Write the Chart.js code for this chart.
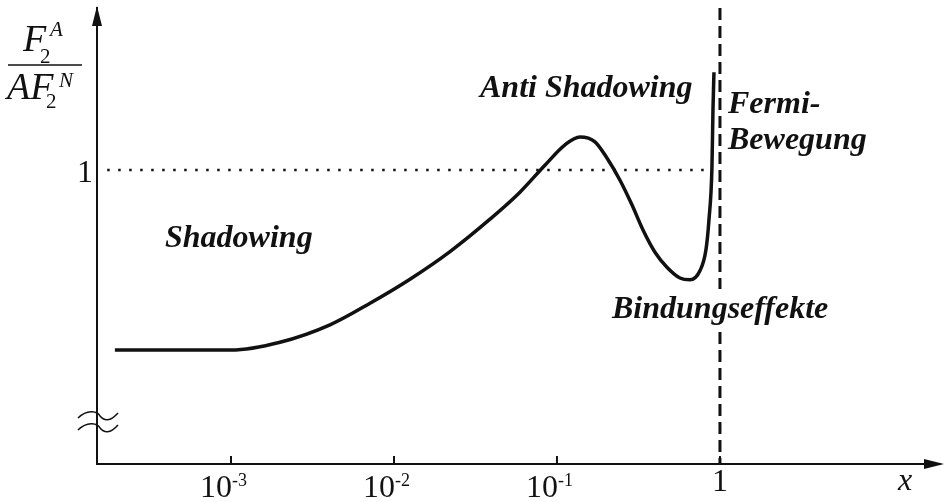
<!DOCTYPE html>
<html>
<head>
<meta charset="utf-8">
<script src="https://cdn.jsdelivr.net/npm/chart.js@4.4.0/dist/chart.umd.min.js"></script>
<style>
  body { margin: 0; background: #fff; }
  #box { width: 946px; height: 502px; }
</style>
</head>
<body>
<div id="box"><canvas id="graficoF2"></canvas></div>
<script>
// curva F2^A / (A F2^N) in funzione di x
var xCurva = [1.94e-4, 4.2e-4, 1e-3, 2.0e-3, 4.05e-3, 7.13e-3, 0.01254, 0.02207, 0.03882, 0.05929,
  0.08435, 0.112, 0.1384, 0.171, 0.2026, 0.2436, 0.2884, 0.3372, 0.3993, 0.4729,
  0.5685, 0.6546, 0.7536, 0.8204, 0.8561, 0.8931, 0.906, 0.9188];
var yCurva = [0.700, 0.700, 0.700, 0.713, 0.742, 0.778, 0.818, 0.864, 0.918, 0.963,
  1.008, 1.042, 1.055, 1.047, 1.020, 0.983, 0.942, 0.900, 0.863, 0.838,
  0.820, 0.817, 0.832, 0.867, 0.917, 1.005, 1.100, 1.163];

// linea punteggiata y = 1 e linea verticale x = 1
var xLineaUno = [1.74e-4, 0.89];
var yLineaVert = [1.27, 0.51];

// tacche dell'asse x (esponenti di 10)
var espTacche = [-3, -2, -1, 0];

var nero = '#111';
var serif = '"Liberation Serif", "Times New Roman", serif';

function punti(xs, ys) {
  var out = [];
  for (var i = 0; i < xs.length; i++) {
    out.push({ x: xs[i], y: ys[i] });
  }
  return out;
}

// assi con frecce, tacche, etichette e testi
var pluginAssi = {
  id: 'assi',
  afterDraw: function(chart) {
    var ctx = chart.ctx;
    var area = chart.chartArea;
    var sx = chart.scales.x;
    var sy = chart.scales.y;
    ctx.save();
    ctx.fillStyle = nero;
    ctx.strokeStyle = nero;

    // frecce
    ctx.beginPath();
    ctx.moveTo(area.left, area.top - 2);
    ctx.lineTo(area.left - 5, area.top + 18);
    ctx.lineTo(area.left + 5, area.top + 18);
    ctx.closePath();
    ctx.fill();
    ctx.beginPath();
    ctx.moveTo(area.right + 4, area.bottom);
    ctx.lineTo(area.right - 16, area.bottom - 5);
    ctx.lineTo(area.right - 16, area.bottom + 5);
    ctx.closePath();
    ctx.fill();

    // tacche e etichette asse x
    ctx.lineWidth = 2;
    ctx.textBaseline = 'alphabetic';
    for (var i = 0; i < espTacche.length; i++) {
      var px = sx.getPixelForValue(Math.pow(10, espTacche[i]));
      ctx.beginPath();
      ctx.moveTo(px, area.bottom);
      ctx.lineTo(px, area.bottom - 8);
      ctx.stroke();
      if (espTacche[i] === 0) {
        ctx.font = '32px ' + serif;
        ctx.textAlign = 'center';
        ctx.fillText('1', px, 491);
      } else {
        ctx.font = '32px ' + serif;
        ctx.textAlign = 'right';
        ctx.fillText('10', px + 1, 497);
        ctx.font = '18px ' + serif;
        ctx.textAlign = 'left';
        ctx.fillText('-' + Math.abs(espTacche[i]), px + 1, 486);
      }
    }

    // etichetta "1" asse y
    ctx.font = '32px ' + serif;
    ctx.textAlign = 'right';
    ctx.fillText('1', area.left - 4, sy.getPixelForValue(1) + 12);

    // etichetta x
    ctx.font = 'italic 32px ' + serif;
    ctx.textAlign = 'center';
    ctx.fillText('x', 905, 490);

    // interruzione asse y
    ctx.lineWidth = 1.5;
    [416, 428].forEach(function(yc) {
      ctx.beginPath();
      ctx.moveTo(78, yc + 2);
      ctx.bezierCurveTo(88, yc - 8, 98, yc - 4, 100, yc);
      ctx.bezierCurveTo(104, yc + 5, 110, yc + 6, 118, yc - 3);
      ctx.stroke();
    });

    // titolo asse y: frazione
    ctx.textAlign = 'left';
    ctx.font = 'italic 38px ' + serif;
    ctx.fillText('F', 23, 51);
    ctx.font = '21px ' + serif;
    ctx.fillText('2', 40, 63);
    ctx.font = 'italic 21px ' + serif;
    ctx.fillText('A', 50, 36);
    ctx.lineWidth = 1.5;
    ctx.beginPath();
    ctx.moveTo(8, 65);
    ctx.lineTo(82, 65);
    ctx.stroke();
    ctx.font = 'italic 38px ' + serif;
    ctx.fillText('AF', 7, 99);
    ctx.font = '21px ' + serif;
    ctx.fillText('2', 46, 108);
    ctx.font = 'italic 21px ' + serif;
    ctx.fillText('N', 59, 87);

    // testi sul grafico
    ctx.font = 'bold italic 32px ' + serif;
    ctx.fillText('Shadowing', 165, 247);
    ctx.fillText('Anti Shadowing', 480, 97);
    ctx.fillText('Fermi-', 728, 113);
    ctx.fillText('Bewegung', 728, 149);
    ctx.fillStyle = '#fff';
    ctx.fillRect(610, 289, 224, 43);
    ctx.fillStyle = nero;
    ctx.fillText('Bindungseffekte', 612, 318);

    ctx.restore();
  }
};

var ctxF2 = document.getElementById('graficoF2');
var grafico = new Chart(ctxF2, {
  type: 'line',
  data: {
    datasets: [{
      data: punti(xCurva, yCurva),
      borderColor: nero,
      borderWidth: 3.5,
      cubicInterpolationMode: 'monotone',
      pointRadius: 0
    }, {
      data: punti(xLineaUno, [1, 1]),
      borderColor: nero,
      borderWidth: 2.5,
      borderDash: [2.5, 8.5],
      pointRadius: 0
    }, {
      data: punti([1, 1], yLineaVert),
      borderColor: nero,
      borderWidth: 3,
      borderDash: [12, 6],
      pointRadius: 0
    }]
  },
  options: {
    responsive: true,
    maintainAspectRatio: false,
    animation: false,
    layout: { padding: { top: 8, right: 6, left: 0, bottom: 0 } },
    plugins: {
      legend: { display: false },
      tooltip: { enabled: false }
    },
    scales: {
      x: {
        type: 'logarithmic',
        min: Math.pow(10, -3.822),
        max: Math.pow(10, 1.35),
        grid: { display: false },
        border: { display: true, color: nero, width: 2 },
        ticks: { display: false },
        afterFit: function(scale) { scale.height = 38; }
      },
      y: {
        type: 'linear',
        min: 0.51,
        max: 1.27,
        grid: { display: false },
        border: { display: true, color: nero, width: 2 },
        ticks: { display: false },
        afterFit: function(scale) { scale.width = 97; }
      }
    }
  },
  plugins: [pluginAssi]
});
</script>
</body>
</html>
